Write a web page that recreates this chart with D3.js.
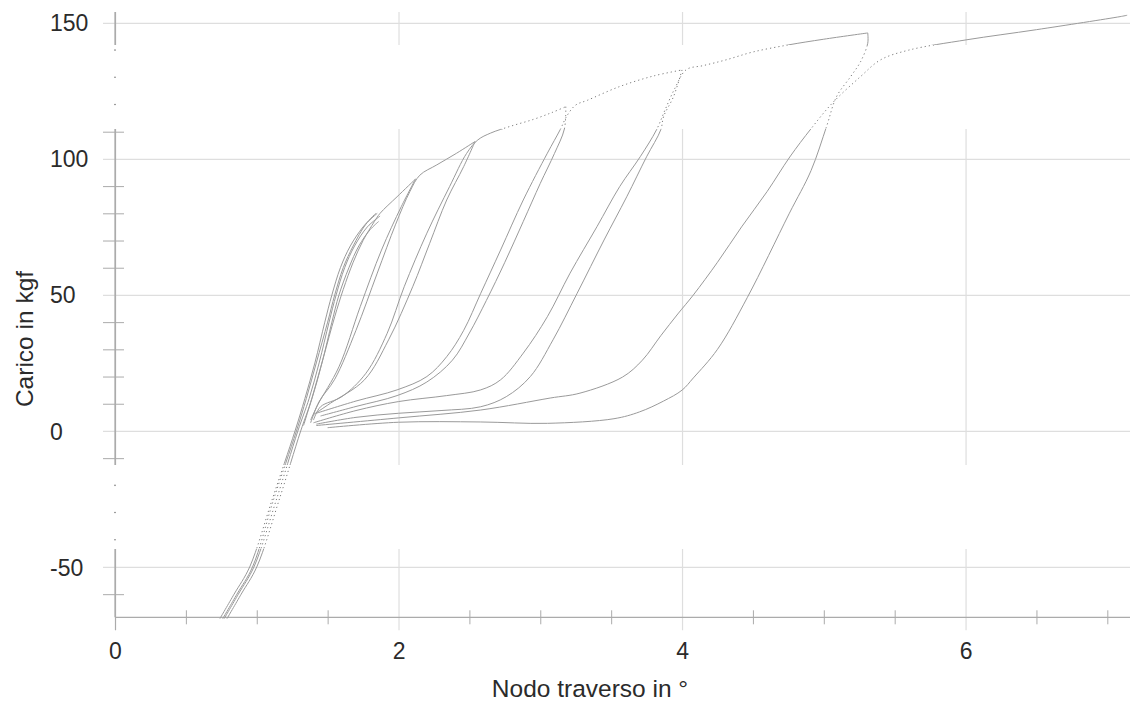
<!DOCTYPE html>
<html><head><meta charset="utf-8">
<script src="https://cdn.jsdelivr.net/npm/d3@7"></script>
<style>body{margin:0;background:#fff}svg{display:block}</style>
</head><body><svg id="chart" width="1133" height="706"></svg>
<script>
// ---- tick data ----
const xTicksMajor = [0, 2, 4, 6];
const xTickLabels = ["0", "2", "4", "6"];
const xTicksMinor = [0.5, 1, 1.5, 2.5, 3, 3.5, 4.5, 5, 5.5, 6.5, 7];
const yTicksMajor = [-50, 0, 50, 100, 150];
const yTickLabels = ["-50", "0", "50", "100", "150"];
const yTicksMinor = [-60, -40, -30, -20, -10, 10, 20, 30, 40, 60, 70, 80, 90, 110, 120, 130, 140];
const xTitle = "Nodo traverso in °";
const yTitle = "Carico in kgf";

// ---- series: [rotation °, load kgf] ----
const bundle1 = [[0.74,-69],[0.84,-60],[0.95,-50],[1.11,-25],[1.27,0],[1.34,12],[1.41,25],[1.48,40],[1.53,50],[1.59,60],[1.66,68],[1.75,75],[1.84,80]];
const bundle2 = [[0.77,-69],[0.87,-60],[0.98,-50],[1.14,-25],[1.29,0],[1.37,12],[1.44,25],[1.51,40],[1.56,50],[1.62,60],[1.69,68],[1.78,75],[1.87,79]];
const bundle3 = [[0.79,-69],[0.89,-60],[1.00,-50],[1.16,-25],[1.31,0],[1.39,12],[1.46,25],[1.53,40],[1.58,50],[1.65,60],[1.72,68],[1.80,74],[1.86,77]];
const bundle4 = [[0.76,-69],[0.86,-60],[0.97,-50],[1.12,-25],[1.28,0],[1.35,12],[1.42,25],[1.50,40],[1.55,50],[1.61,60],[1.68,68],[1.77,76],[1.85,80]];
const reloadB = [[1.33,2],[1.40,14],[1.47,27],[1.55,42],[1.61,52],[1.68,62],[1.75,70],[1.83,77],[1.87,80],[1.99,86.1],[2.12,92.6]];
const unloadB = [[2.12,92.6],[2.02,82.5],[1.88,66.5],[1.73,45.7],[1.58,23.6],[1.43,9.6],[1.38,4]];
const reloadC = [[1.38,3],[1.44,10.8],[1.55,19],[1.70,37],[1.85,58],[1.98,76],[2.08,88],[2.15,94],[2.27,97.8],[2.41,102.1],[2.54,106.4]];
const unloadC = [[2.54,106.4],[2.46,97.2],[2.34,84.9],[2.22,69],[2.10,53],[1.93,33.5],[1.76,18.8],[1.52,10.2],[1.40,6]];
const reloadC2 = [[1.40,4],[1.45,8.9],[1.60,12.6],[1.77,21.2],[1.92,35.9],[2.04,53],[2.20,72.7],[2.36,89.8],[2.48,102],[2.56,107],[2.65,109.5],[2.79,112],[2.95,114.5],[3.08,117],[3.18,119.2]];
const unloadC2 = [[3.18,119.2],[3.17,111],[3.10,102],[3.00,91],[2.88,77],[2.75,62],[2.62,48],[2.50,36],[2.38,26],[2.20,18],[1.99,13],[1.70,9],[1.45,5.5]];
const reloadD = [[1.42,6.5],[1.70,11],[1.99,15.1],[2.20,20],[2.34,27.3],[2.46,37],[2.58,50.6],[2.72,66.5],[2.88,84.9],[3.05,102.1],[3.14,110.7],[3.19,116],[3.25,119.8],[3.33,121.5],[3.56,126.6],[3.80,130.5],[4.0,132.7]];
const unloadD = [[4.0,132.7],[3.94,122.9],[3.87,115.6],[3.85,110.7],[3.75,100.8],[3.61,86.1],[3.45,70.2],[3.26,50.6],[3.09,33.5],[2.93,20],[2.76,12.6],[2.58,8.9],[2.30,7.5],[2.0,6.5],[1.70,5],[1.42,2.5]];
const reloadE = [[1.40,3],[1.70,7.5],[2.0,10.8],[2.34,13],[2.58,15.1],[2.72,18.8],[2.88,28.6],[3.05,42],[3.21,58],[3.40,75.1],[3.56,89.8],[3.705,100.8],[3.82,110.7],[3.88,118],[3.95,126],[4.03,132.8],[4.15,134.3],[4.31,136.4],[4.50,139.3],[4.75,141.9],[5.0,144],[5.31,146.3]];
const unloadE = [[5.31,146.3],[5.31,142.5],[5.26,135.8],[5.19,130.3],[5.09,122.9],[5.02,112],[4.91,95.7],[4.755,79.8],[4.46,49],[4.25,30],[4.08,19.5],[4.0,15],[3.87,11],[3.70,7],[3.52,4.5],[3.05,2.8],[2.58,3.3],[2.0,3.2],[1.50,1.2]];
const reloadF = [[1.42,2],[2.0,4.8],[2.58,7.7],[3.07,12.1],[3.28,13.9],[3.58,19.8],[3.72,26],[3.85,35],[3.97,43],[4.08,50],[4.25,62],[4.42,75],[4.60,88],[4.76,100.7],[4.91,111.1],[5.06,120.5],[5.26,130.3],[5.40,136.4],[5.60,140],[6.01,143.8],[6.50,147.5],[7.09,152.3],[7.14,152.8]];

const allSeries = [bundle1,bundle2,bundle3,bundle4,reloadB,unloadB,reloadC,unloadC,reloadC2,unloadC2,reloadD,unloadD,reloadE,unloadE,reloadF];

// ---- layout ----
const L = 115, R = 1130, T = 12, B = 617.3;
const strips = [[45,129],[465,549]];
const svg = d3.select("#chart");
const x = d3.scaleLinear().domain([0, 7.16]).range([L, R]);
const y = d3.scaleLinear().domain([-68.5, 154]).range([B, T]);

const gridCol = "#dedede", axisCol = "#ababab", textCol = "#2b2b2b";
const font = "Liberation Sans, Arial, sans-serif";

// horizontal gridlines (major y)
const gy = svg.append("g").attr("transform",`translate(${L},0)`)
  .call(d3.axisLeft(y).tickValues(yTicksMajor).tickSize(-(R-L)).tickFormat((d,i)=>yTickLabels[i]));
gy.select(".domain").remove();
gy.selectAll(".tick line").attr("stroke",gridCol).attr("x1",-12).attr("stroke-width",1.2);
gy.selectAll(".tick text").attr("x",50-L).attr("text-anchor","start").attr("dy","0.35em")
  .attr("fill",textCol).style("font-family",font).style("font-size","23px");

// vertical gridlines (major x)
const gx = svg.append("g").attr("transform",`translate(0,${B})`)
  .call(d3.axisBottom(x).tickValues(xTicksMajor).tickSize(-(B-T)).tickFormat((d,i)=>xTickLabels[i]));
gx.select(".domain").remove();
gx.selectAll(".tick line").attr("stroke",(d)=> d===0 ? axisCol : gridCol).attr("y1",13).attr("stroke-width",1.2);
gx.selectAll(".tick text").attr("y",34).attr("dy","0.35em")
  .attr("fill",textCol).style("font-family",font).style("font-size","23px");

// minor ticks
const myT = svg.append("g").attr("transform",`translate(${L},0)`)
  .call(d3.axisLeft(y).tickValues(yTicksMinor).tickSize(12).tickFormat(""));
myT.select(".domain").remove();
myT.selectAll(".tick line").attr("stroke",axisCol).attr("x1",9);
const mxT = svg.append("g").attr("transform",`translate(0,${B})`)
  .call(d3.axisBottom(x).tickValues(xTicksMinor).tickSize(7).tickFormat(""));
mxT.select(".domain").remove();
mxT.selectAll(".tick line").attr("stroke",axisCol).attr("y1",-7);

// axis lines
svg.append("line").attr("x1",L).attr("x2",L).attr("y1",T).attr("y2",B).attr("stroke",axisCol).attr("stroke-width",1.2);
svg.append("line").attr("x1",L).attr("x2",R).attr("y1",B).attr("y2",B).attr("stroke",axisCol).attr("stroke-width",1.2);

// scanned white strips
strips.forEach(s => svg.append("rect").attr("x",0).attr("y",s[0]).attr("width",1133).attr("height",s[1]-s[0]).attr("fill","#fff"));
svg.append("g").selectAll("circle").data(yTicksMinor.filter(v => strips.some(s => y(v)>s[0] && y(v)<s[1])))
  .join("circle").attr("cx",L).attr("cy",d=>y(d)).attr("r",0.8).attr("fill","#777");

// clip paths
const defs = svg.append("defs");
const outside = defs.append("clipPath").attr("id","outside");
outside.append("rect").attr("x",0).attr("y",0).attr("width",R).attr("height",strips[0][0]);
outside.append("rect").attr("x",0).attr("y",strips[0][1]).attr("width",R).attr("height",strips[1][0]-strips[0][1]);
outside.append("rect").attr("x",0).attr("y",strips[1][1]).attr("width",R).attr("height",706-strips[1][1]);
const inside = defs.append("clipPath").attr("id","inside");
strips.forEach(s => inside.append("rect").attr("x",0).attr("y",s[0]).attr("width",R).attr("height",s[1]-s[0]));

const line = d3.line().x(d=>x(d[0])).y(d=>y(d[1])).curve(d3.curveCatmullRom.alpha(0.5));

svg.append("g").attr("clip-path","url(#outside)").selectAll("path").data(allSeries).join("path")
  .attr("d",line).attr("fill","none").attr("stroke","#9a9a9a").attr("stroke-width",1);
svg.append("g").attr("clip-path","url(#inside)").selectAll("path").data(allSeries).join("path")
  .attr("d",line).attr("fill","none").attr("stroke","#5a5a5a").attr("stroke-width",0.8).attr("stroke-dasharray","1.2,3");

// titles
svg.append("text").attr("x",590).attr("y",688).attr("dy","0.35em").attr("text-anchor","middle")
  .attr("fill",textCol).style("font-family",font).style("font-size","24.5px").text(xTitle);
svg.append("text").attr("transform","translate(24,339) rotate(-90)").attr("dy","0.35em").attr("text-anchor","middle")
  .attr("fill",textCol).style("font-family",font).style("font-size","24.5px").text(yTitle);
</script></body></html>
